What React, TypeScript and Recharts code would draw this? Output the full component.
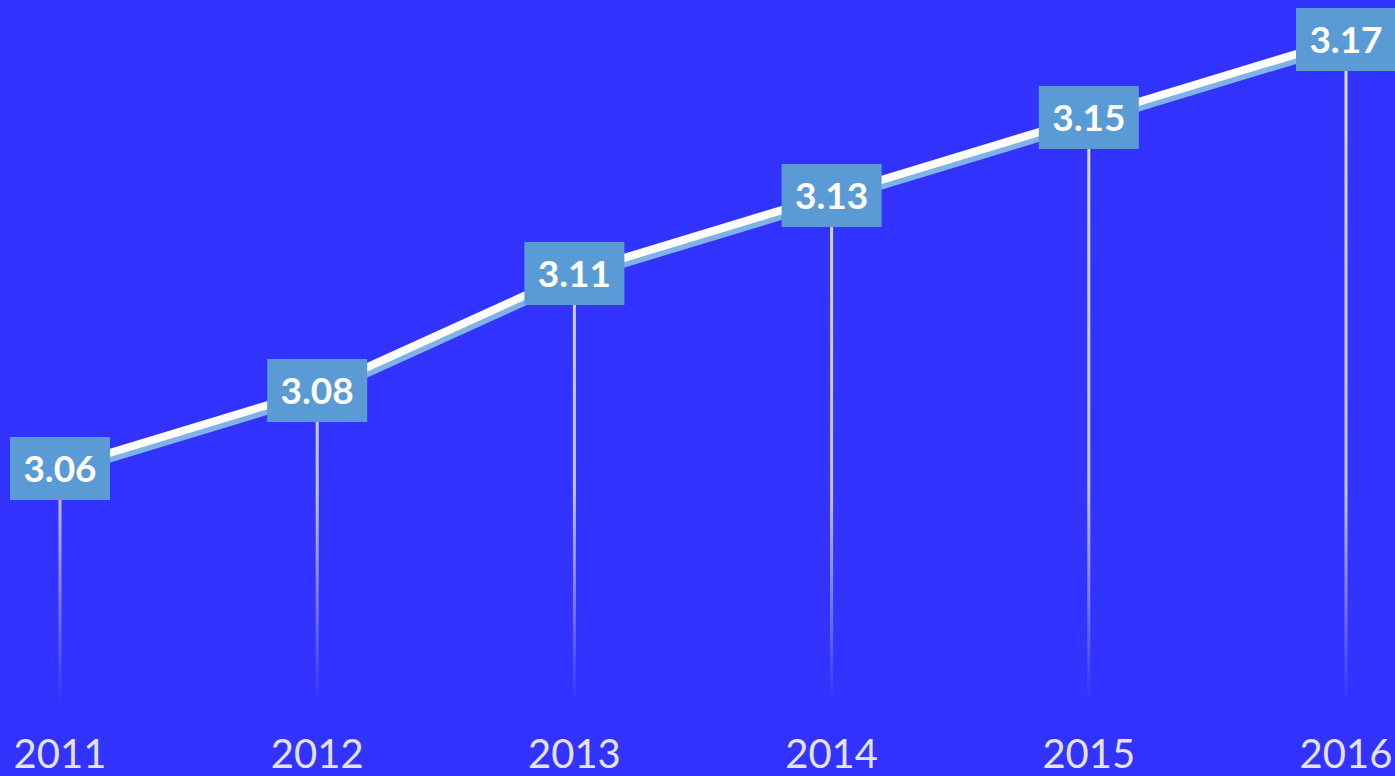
import { LineChart, Line, XAxis, YAxis, ReferenceLine, LabelList } from "recharts"

const years = ["2011", "2012", "2013", "2014", "2015", "2016"]
const values = [3.06, 3.08, 3.11, 3.13, 3.15, 3.17]
const yDomain = [3.0, 3.18]
const yTicks = [3.0, 3.18]

const data = years.map((year, i) => ({ year, value: values[i] }))

function ValueBox(props: any) {
    const { x, y, value } = props
    return (
        <g>
            <rect x={x - 50} y={y - 31} width={100} height={63} fill="#5B9BD5" />
            <text
                x={x}
                y={y + 14}
                textAnchor="middle"
                fill="#ffffff"
                fontSize={37}
                fontWeight="bold"
                fontFamily="Lato, 'Open Sans', sans-serif"
            >
                {Number(value).toFixed(2)}
            </text>
        </g>
    )
}

export default function App() {
    return (
        <div style={{ position: "fixed", top: 0, left: 0, width: 1395, height: 776, background: "#3333FF", overflow: "hidden" }}>
            <style>{`.main-line .recharts-line-curve { filter: drop-shadow(2px 5px 0 #7fb2e6); }`}</style>
            <LineChart width={1395} height={776} data={data} margin={{ top: 0, right: 49, bottom: 0, left: 60 }}>
                <defs>
                    <linearGradient id="dropFade" gradientUnits="userSpaceOnUse" x1="0" y1="0" x2="0" y2="702">
                        <stop offset="0" stopColor="#ffffff" stopOpacity={0.85} />
                        <stop offset="0.7" stopColor="#e8e8ff" stopOpacity={0.8} />
                        <stop offset="1" stopColor="#e8e8ff" stopOpacity={0} />
                    </linearGradient>
                </defs>
                <XAxis
                    dataKey="year"
                    height={74}
                    axisLine={false}
                    tickLine={false}
                    tickSize={0}
                    tickMargin={38}
                    interval={0}
                    tick={{ fill: "#e2e2f8", fontSize: 40, fontFamily: "Lato, 'Open Sans', sans-serif" }}
                />
                <YAxis hide domain={yDomain} ticks={yTicks} />
                {data.map((d) => (
                    <ReferenceLine
                        key={d.year}
                        segment={[{ x: d.year, y: yDomain[0] }, { x: d.year, y: d.value }]}
                        stroke="url(#dropFade)"
                        strokeWidth={3}
                    />
                ))}
                <Line
                    className="main-line"
                    type="linear"
                    dataKey="value"
                    stroke="#ffffff"
                    strokeWidth={8}
                    dot={false}
                    activeDot={false}
                    isAnimationActive={false}
                >
                    <LabelList dataKey="value" content={ValueBox} />
                </Line>
            </LineChart>
        </div>
    )
}
